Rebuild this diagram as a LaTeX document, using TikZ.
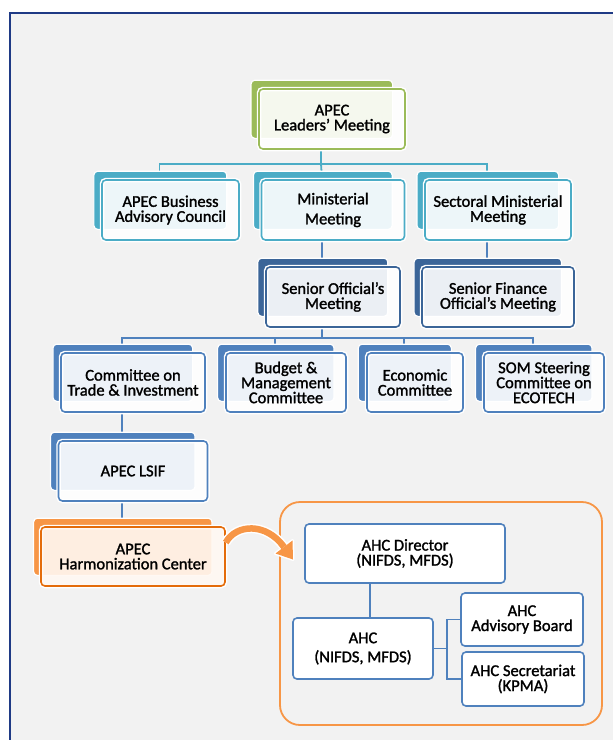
\documentclass[tikz,border=0pt]{standalone}
\usepackage{fontspec}
\setmainfont{Carlito}[FakeBold=1.5]
\usetikzlibrary{positioning, shadows}

\definecolor{leafgreen}{HTML}{9BBB59}
\definecolor{aqua}{HTML}{4BACC6}
\definecolor{navy}{HTML}{3B6598}
\definecolor{steel}{HTML}{4F81BD}
\definecolor{tang}{HTML}{F79646}
\definecolor{tangdark}{HTML}{E46C0A}
\definecolor{tangpale}{HTML}{FFF8F2}
\definecolor{framegray}{HTML}{F2F2F2}
\definecolor{frameblue}{HTML}{1F3A85}

\pgfdeclarelayer{back}
\pgfdeclarelayer{wires}
\pgfsetlayers{back,wires,main}

\begin{document}
\begin{tikzpicture}[x=1pt, y=-1pt,
      font = \fontsize{16.5}{15}\selectfont,
  base/.style = {rectangle, rounded corners=4pt, align=center,
                 line width=1.6pt, inner sep=1pt},
  unit/.style = {base, draw=#1, fill=white, fill opacity=0.9,
                 text opacity=1,
                 general shadow={fill=#1, draw=white, line width=1.2pt,
                    fill opacity=1, shadow xshift=-10.5pt,
                    shadow yshift=10pt, shadow scale=0.97},
                 preaction={draw=white, line width=4.5pt}},
 plain/.style = {base, draw=steel, fill=white},
  wire/.style = {line width=1.8pt, draw=#1},
  wire/.default = steel
                    ]
\useasboundingbox (0,0) rectangle (613,740);
\begin{pgfonlayer}{back}
\draw[fill=framegray, draw=frameblue, line width=2.5pt] (10,13) rectangle (640,770);
\end{pgfonlayer}
 % main tree
\node (leaders)  [unit=leafgreen, minimum width=146pt, minimum height=60pt] at (332,119) {APEC\\Leaders' Meeting};
\node (abac)     [unit=aqua, minimum width=137pt, minimum height=60pt] at (170.5,210) {APEC Business\\Advisory Council};
\node (minist)   [unit=aqua, minimum width=143pt, minimum height=60pt] at (333,210) {Ministerial\\[5pt]Meeting};
\node (sectoral) [unit=aqua, minimum width=146pt, minimum height=60pt] at (498,210) {Sectoral Ministerial\\Meeting};
\node (som)      [unit=navy, minimum width=134pt, minimum height=60pt] at (333,297) {Senior Official's\\Meeting};
\node (sfom)     [unit=navy, minimum width=152pt, minimum height=60pt] at (498,297) {Senior Finance\\Official's Meeting};
\node (cti)      [unit=steel, minimum width=144pt, minimum height=59pt] at (133,382.5) {Committee on\\Trade \& Investment};
\node (bmc)      [unit=steel, minimum width=120pt, minimum height=59pt] at (286,382.5) {Budget \&\\Management\\Committee};
\node (ec)       [unit=steel, minimum width=96pt, minimum height=59pt] at (415,382.5) {Economic\\Committee};
\node (steer)    [unit=steel, minimum width=120pt, minimum height=59pt] at (544,382.5) {SOM Steering\\Committee on\\ECOTECH};
\node (lsif)     [unit=steel, minimum width=149pt, minimum height=60pt] at (133,471) {APEC LSIF};
\node (ahcenter) [unit=tang, draw=tangdark, fill=tangpale, minimum width=184pt, minimum height=59pt] at (133,556.5) {APEC\\Harmonization Center};
% AHC group
\node (hub)      [draw=tang, line width=1.8pt, rounded corners=20pt, minimum width=322pt, minimum height=223pt] at (441,613.5) {};
\node (director) [plain, minimum width=200pt, minimum height=59pt] at (405,553.5) {AHC Director\\(NIFDS, MFDS)};
\node (ahc)      [plain, minimum width=140pt, minimum height=61pt] at (363,648.5) {AHC\\[4pt](NIFDS, MFDS)};
\node (board)    [plain, minimum width=122pt, minimum height=53pt] at (522,619.5) {AHC\\Advisory Board};
\node (secret)   [plain, minimum width=122pt, minimum height=54pt] at (523,679) {AHC Secretariat\\(KPMA)};

\begin{pgfonlayer}{wires}
\draw[wire=aqua] ([xshift=-11pt]leaders.south) -- ++(0,14) coordinate (top) -| ([xshift=-11pt]abac.north);
\draw[wire=aqua] (top) -| ([xshift=-11pt]sectoral.north);
\draw[wire=aqua] (top) -- ([xshift=-11pt]minist.north);
\draw[wire] ([xshift=-11pt]minist.south) -- ([xshift=-11pt]som.north);
\draw[wire] ([xshift=-11pt]sectoral.south) -- ([xshift=-11pt]sfom.north);
\draw[wire] ([xshift=-11pt]som.south) -- ++(0,10) coordinate (mid) -| ([xshift=-11pt]cti.north);
\draw[wire] (mid) -| ([xshift=-11pt]bmc.north);
\draw[wire] (mid) -| ([xshift=-11pt]ec.north);
\draw[wire] (mid) -| ([xshift=-11pt]steer.north);
\draw[wire] ([xshift=-11pt]cti.south) -- ([xshift=-11pt]lsif.north);
\draw[wire] ([xshift=-11pt]lsif.south) -- ([xshift=-11pt]ahcenter.north);
\draw[wire] ([xshift=7pt]director.south -| ahc.north) -- ([xshift=7pt]ahc.north);
\draw[wire] (ahc.east) -- ++(13,0) coordinate (fork) |- (board.west);
\draw[wire] (fork) |- (secret.west);
\end{pgfonlayer}

% curved arrow
\coordinate (tail) at ([yshift=14pt]ahcenter.east);
\coordinate (neck) at (284,547);
\coordinate (tip)  at (293,559.5);
\draw[white, line width=9.5pt] (tail) .. controls (236,524) and (266,522) .. (neck);
\filldraw[white, line width=3pt, line join=round] (292.5,540.5) -- (tip) -- (275.5,553.5) -- cycle;
\draw[tang, line width=6.5pt] (tail) .. controls (236,524) and (266,522) .. (neck);
\fill[tang] (292.5,540.5) -- (tip) -- (275.5,553.5) -- cycle;
\end{tikzpicture}
\end{document}
